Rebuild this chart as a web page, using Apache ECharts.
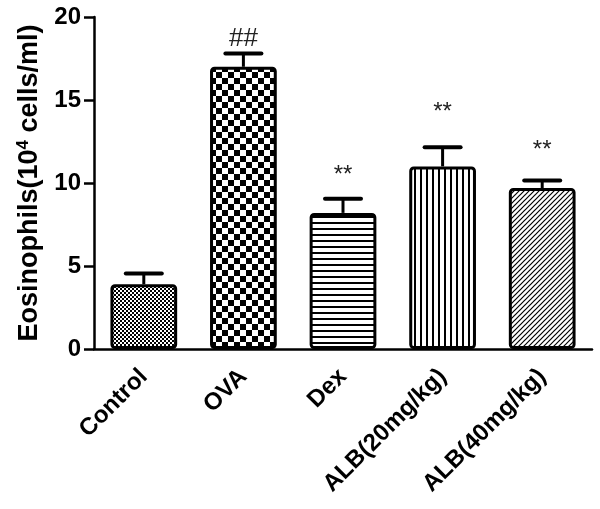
<!DOCTYPE html>
<html><head><meta charset="utf-8">
<script src="https://cdn.jsdelivr.net/npm/echarts@6/dist/echarts.min.js"></script>
<style>html,body{margin:0;padding:0;background:#fff}#c{width:600px;height:509px}</style>
</head><body><div id="c"></div>
<script>
const categories = ['Control', 'OVA', 'Dex', 'ALB(20mg/kg)', 'ALB(40mg/kg)'];
const means = [3.9, 17.0, 8.2, 11.0, 9.7];
const errors = [0.65, 0.8, 0.85, 1.15, 0.45];
const marks = ['', '##', '**', '**', '**'];
const markLevels = [0, 18.7, 10.45, 14.25, 11.95];
const yTicks = [0, 5, 10, 15, 20];

function pat(w, h, draw) {
  const c = document.createElement('canvas');
  c.width = w; c.height = h;
  const g = c.getContext('2d');
  g.fillStyle = '#fff'; g.fillRect(0, 0, w, h);
  g.fillStyle = '#000'; g.strokeStyle = '#000';
  draw(g);
  return { image: c, repeat: 'repeat' };
}
const patterns = [
  pat(4, 4, g => { g.fillRect(0, 0, 2, 2); g.fillRect(2, 2, 2, 2); }),
  pat(12, 12, g => { g.fillRect(0, 0, 6, 6); g.fillRect(6, 6, 6, 6); }),
  pat(6, 6, g => { g.fillRect(0, 0, 6, 2); }),
  pat(6, 6, g => { g.fillRect(0, 0, 2, 6); }),
  pat(5, 5, g => { g.lineWidth = 1.2; g.beginPath();
    for (let k = -1; k <= 1; k++) { g.moveTo(-1 + k * 5, 6); g.lineTo(6 + k * 5, -1); }
    g.stroke(); })
];

const chart = echarts.init(document.getElementById('c'), null, { renderer: 'canvas' });
const font = 'Liberation Sans, Arial, sans-serif';
chart.setOption({
  animation: false,
  grid: { left: 94, right: 8, top: 17, bottom: 160 },
  xAxis: {
    type: 'category', data: categories,
    axisLine: { lineStyle: { color: '#000', width: 2.5 } },
    axisTick: { alignWithLabel: true, length: 7, lineStyle: { color: '#000', width: 2.5 } },
    axisLabel: { rotate: 45, color: '#000', fontWeight: 'bold', fontSize: 24, fontFamily: font, margin: 24, interval: 0 }
  },
  yAxis: {
    type: 'value', min: 0, max: 20, interval: 5,
    name: '{a|Eosinophils(10}{s|4}{a| cells/ml)}',
    nameLocation: 'middle', nameGap: 44, nameRotate: 90,
    nameTextStyle: { rich: {
      a: { fontSize: 27, fontWeight: 'bold', fontFamily: font, color: '#000' },
      s: { fontSize: 17, fontWeight: 'bold', fontFamily: font, color: '#000', verticalAlign: 'top', padding: [0, 0, 13, 0] }
    } },
    axisLine: { show: true, lineStyle: { color: '#000', width: 2.5 } },
    axisTick: { show: true, length: 10, lineStyle: { color: '#000', width: 2.5 } },
    splitLine: { show: false },
    axisLabel: { color: '#000', fontWeight: 'bold', fontSize: 24, fontFamily: font, margin: 13,
      formatter: v => yTicks.includes(v) ? String(v) : '' }
  },
  series: [
    {
      type: 'bar', barWidth: '67%',
      data: means.map((v, i) => ({ value: v, itemStyle: { color: patterns[i] } })),
      itemStyle: { borderColor: '#000', borderWidth: 3, borderRadius: 3 },
      z: 2
    },
    {
      type: 'custom', z: 3,
      data: means.map((v, i) => [i, v, v + errors[i]]),
      renderItem: (params, api) => {
        const base = api.coord([api.value(0), api.value(1)]);
        const top = api.coord([api.value(0), api.value(2)]);
        const hw = 18;
        return { type: 'group', children: [
          { type: 'line', shape: { x1: base[0], y1: base[1], x2: top[0], y2: top[1] }, style: { stroke: '#000', lineWidth: 3 } },
          { type: 'line', shape: { x1: top[0] - hw, y1: top[1], x2: top[0] + hw, y2: top[1] }, style: { stroke: '#000', lineWidth: 4, lineCap: 'round' } }
        ] };
      }
    },
    {
      type: 'custom', z: 4,
      data: markLevels.map((v, i) => [i, v]),
      renderItem: (params, api) => {
        const i = params.dataIndex;
        const p = api.coord([api.value(0), api.value(1)]);
        return { type: 'text', style: { text: marks[i], x: p[0], y: p[1], align: 'center', verticalAlign: 'middle',
          fontSize: i === 1 ? 26 : 24, fontFamily: font, fill: '#222' } };
      }
    }
  ]
});
</script></body></html>
